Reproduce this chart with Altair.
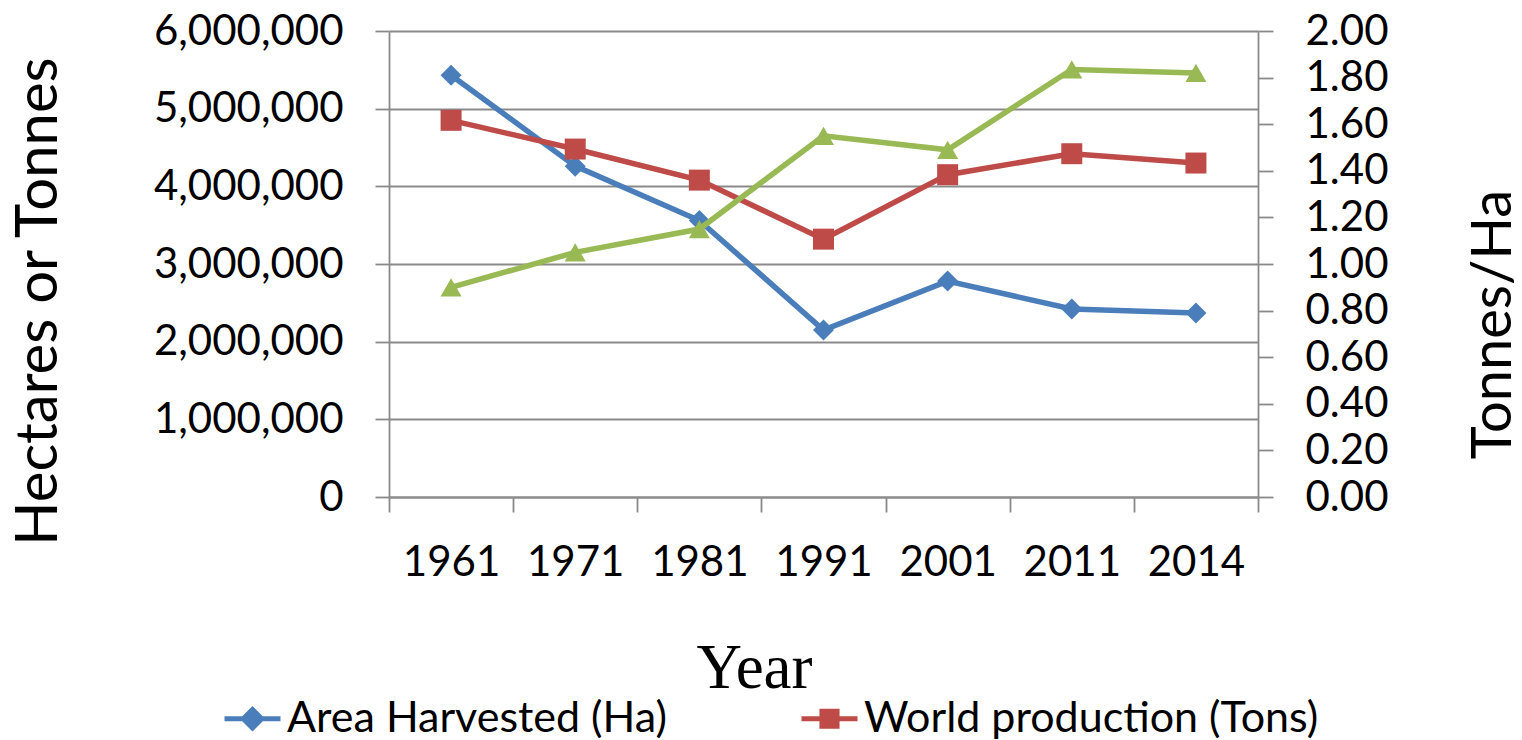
import altair as alt
import pandas as pd

# Values per year
years = ["1961", "1971", "1981", "1991", "2001", "2011", "2014"]
area_harvested = [5430000, 4260000, 3560000, 2150000, 2780000, 2420000, 2370000]
world_production = [4850000, 4480000, 4080000, 3320000, 4150000, 4420000, 4300000]
tonnes_per_ha = [0.90, 1.05, 1.15, 1.55, 1.49, 1.835, 1.82]

series_names = ["Area Harvested (Ha)", "World production (Tons)"]
series_colors = ["#4A7EBB", "#BE4B48"]
yield_color = "#98B954"

left_ticks = [0, 1000000, 2000000, 3000000, 4000000, 5000000, 6000000]
right_ticks = [0.0, 0.2, 0.4, 0.6, 0.8, 1.0, 1.2, 1.4, 1.6, 1.8, 2.0]

# Legend symbols: a short line with the series marker on top
legend_paths = [
    "M-1,0H1M-0.33,0L0,-0.33L0.33,0L0,0.33Z",
    "M-1,0H1M-0.27,-0.27H0.27V0.27H-0.27Z",
]

df = pd.DataFrame({
    "Year": years,
    "area": area_harvested,
    "production": world_production,
    "yield": tonnes_per_ha,
})

GRAY = "#8A8A8A"
FONT = "Lato"

x_enc = alt.X(
    "Year:N",
    sort=years,
    bandPosition=0.5,
    scale=alt.Scale(type="band", paddingInner=0, paddingOuter=0),
    axis=alt.Axis(
        title="Year",
        titleFont="Liberation Serif",
        titleFontSize=63,
        titleFontWeight="normal",
        titleColor="black",
        titleX=365,
        titleY=190,
        titleAlign="center",
        titleBaseline="alphabetic",
        tickBand="extent",
        tickSize=15,
        tickColor=GRAY,
        tickWidth=1.8,
        domainColor=GRAY,
        domainWidth=1.8,
        labelFont=FONT,
        labelFontSize=42,
        labelColor="black",
        labelPadding=30,
        labelAngle=0,
        labelLimit=0,
        grid=False,
    ),
)

left_scale = alt.Scale(domain=[0, 6000000], nice=False, zero=True)
left_axis = alt.Axis(
    orient="left",
    values=left_ticks,
    format=",d",
    grid=True,
    gridColor=GRAY,
    gridWidth=1.8,
    domainColor=GRAY,
    domainWidth=1.8,
    tickColor=GRAY,
    tickWidth=1.8,
    tickSize=14,
    labelFont=FONT,
    labelFontSize=42,
    labelColor="black",
    labelPadding=32,
    labelLimit=0,
    title="Hectares or Tonnes",
    titleFont=FONT,
    titleFontSize=58,
    titleFontWeight="normal",
    titleColor="black",
    titleAngle=270,
    titleX=-333,
    titleY=270,
    titleAlign="center",
    titleBaseline="alphabetic",
    titleLimit=0,
)

right_scale = alt.Scale(domain=[0, 2], nice=False, zero=True)
right_axis = alt.Axis(
    orient="right",
    values=right_ticks,
    format=".2f",
    grid=False,
    domainColor=GRAY,
    domainWidth=1.8,
    tickColor=GRAY,
    tickWidth=1.8,
    tickSize=15,
    labelFont=FONT,
    labelFontSize=42,
    labelColor="black",
    labelPadding=32,
    labelLimit=0,
    title="Tonnes/Ha",
    titleFont=FONT,
    titleFontSize=56,
    titleFontWeight="normal",
    titleColor="black",
    titleAngle=270,
    titleX=252,
    titleY=293,
    titleAlign="center",
    titleBaseline="alphabetic",
    titleLimit=0,
)

base = alt.Chart(df)


def series_line(field, color, shape, scale, axis):
    return base.mark_line(
        color=color,
        strokeWidth=5.5,
        point=alt.OverlayMarkDef(shape=shape, size=440, filled=True, color=color, opacity=1),
    ).encode(
        x=x_enc,
        y=alt.Y(f"{field}:Q", scale=scale, axis=axis),
    )


area_layer = series_line("area", series_colors[0], "diamond", left_scale, left_axis)
prod_layer = series_line("production", series_colors[1], "square", left_scale, left_axis)
yield_layer = series_line("yield", yield_color, "triangle-up", right_scale, right_axis)

legend_def = alt.Legend(
    title=None,
    orient="none",
    legendX=-167,
    legendY=657,
    direction="horizontal",
    labelFont=FONT,
    labelFontSize=43,
    labelColor="black",
    labelLimit=800,
    labelOffset=4,
    symbolSize=3136,
    symbolStrokeWidth=5,
    symbolOpacity=1,
    columnPadding=124,
    padding=0,
)

legend_layer = (
    alt.Chart(pd.DataFrame({"series": series_names}))
    .transform_filter("false")
    .mark_point(filled=False, opacity=1)
    .encode(
        color=alt.Color("series:N", scale=alt.Scale(domain=series_names, range=series_colors), legend=legend_def),
        fill=alt.Fill("series:N", scale=alt.Scale(domain=series_names, range=series_colors), legend=legend_def),
        shape=alt.Shape("series:N", scale=alt.Scale(domain=series_names, range=legend_paths), legend=legend_def),
    )
)

left = alt.layer(area_layer, prod_layer, legend_layer)

chart = (
    alt.layer(left, yield_layer)
    .resolve_scale(y="independent")
    .properties(
        width=869,
        height=466,
        autosize=alt.AutoSizeParams(type="none"),
        padding={"left": 389, "top": 31, "right": 264, "bottom": 243},
        background="white",
    )
    .configure_view(stroke=None)
)

chart.save("out.html", embed_options={"renderer": "svg", "actions": False})
